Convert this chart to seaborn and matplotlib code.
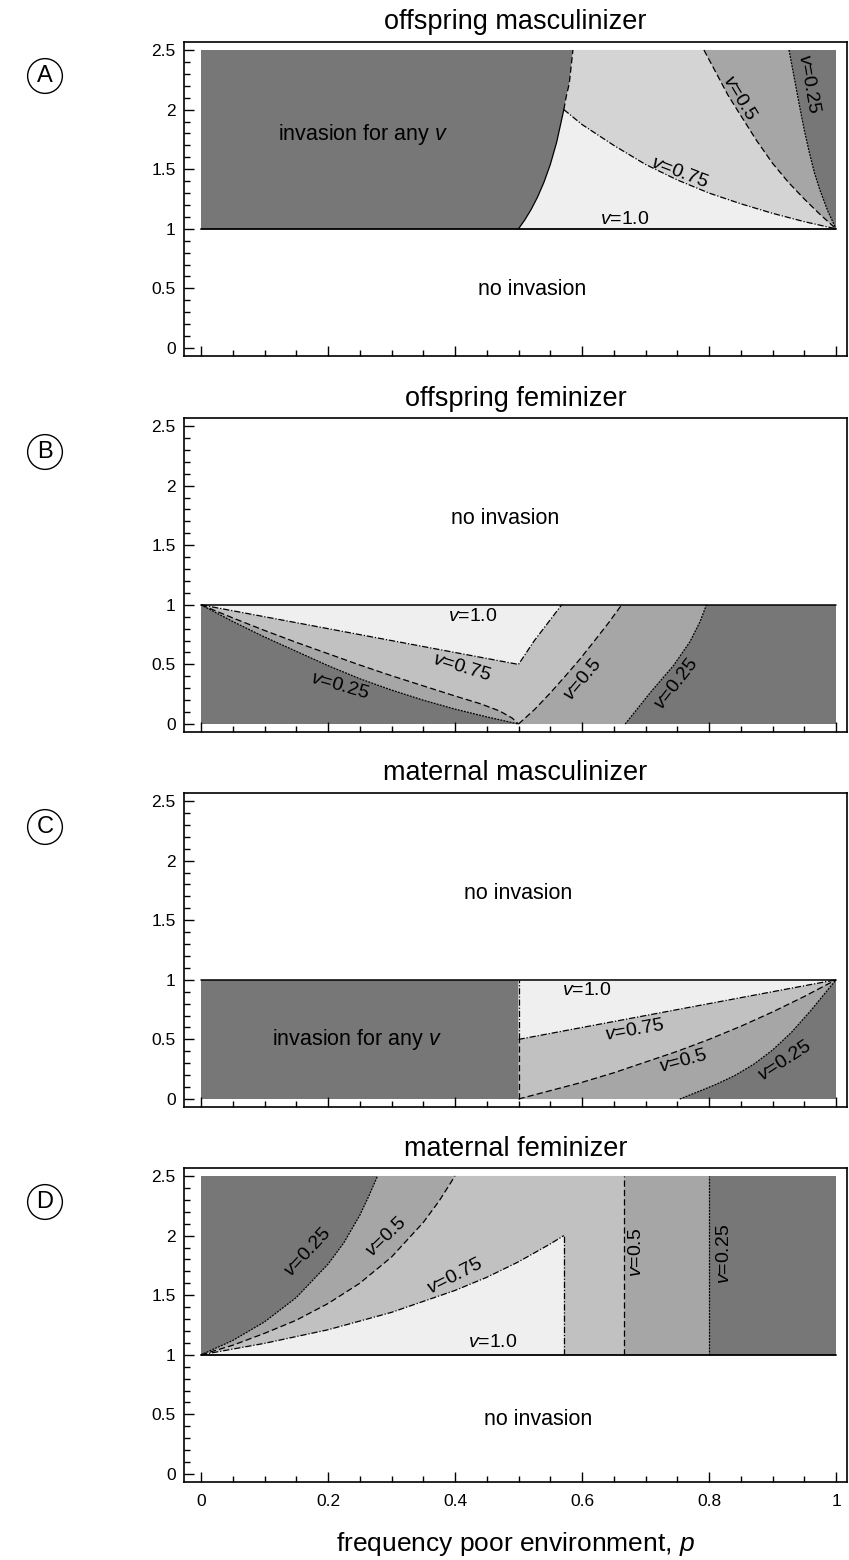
import numpy as np
import matplotlib
matplotlib.use("Agg")
import matplotlib.pyplot as plt
from matplotlib.ticker import MultipleLocator, FuncFormatter
import seaborn as sns

# ---- data ----
# panel A, offspring masculinizer
a_any_p = [0.5, 0.51, 0.52, 0.53, 0.54, 0.55, 0.56, 0.5714]
a_any_y = [1.0, 1.075, 1.163, 1.266, 1.389, 1.538, 1.724, 2.0]
a_anytop_p = [0.5714, 0.575, 0.58, 0.5857]
a_anytop_y = [2.0, 2.105, 2.22, 2.5]
a_v075_p = [0.5714, 0.6, 0.65, 0.7, 0.75, 0.8, 0.85, 0.9, 0.95, 1.0]
a_v075_y = [2.0, 1.875, 1.70, 1.54, 1.41, 1.30, 1.21, 1.13, 1.06, 1.0]
a_v05_p = [0.792, 0.81, 0.83, 0.85, 0.875, 0.90, 0.925, 0.95, 0.975, 1.0]
a_v05_y = [2.5, 2.32, 2.12, 1.95, 1.74, 1.55, 1.39, 1.25, 1.12, 1.0]
a_v025_p = [0.926, 0.932, 0.938, 0.944, 0.95, 0.958, 0.966, 0.975, 0.987, 1.0]
a_v025_y = [2.5, 2.33, 2.16, 1.99, 1.83, 1.64, 1.47, 1.32, 1.15, 1.0]

# panel B, offspring feminizer
b_v075_p = [0.0, 0.1, 0.2, 0.3, 0.4, 0.5, 0.525, 0.548, 0.568]
b_v075_y = [1.0, 0.9, 0.8, 0.7, 0.6, 0.5, 0.7, 0.86, 1.0]
b_v05l_p = [0.0, 0.05, 0.1, 0.15, 0.2, 0.25, 0.3, 0.35, 0.4, 0.44, 0.47, 0.49, 0.5]
b_v05l_y = [1.0, 0.89, 0.785, 0.685, 0.59, 0.495, 0.405, 0.32, 0.235, 0.17, 0.11, 0.05, 0.0]
b_v05r_p = [0.5, 0.525, 0.55, 0.575, 0.597, 0.62, 0.642, 0.6625]
b_v05r_y = [0.0, 0.12, 0.26, 0.41, 0.546, 0.7, 0.85, 1.0]
b_v025l_p = [0.0, 0.05, 0.1, 0.15, 0.2, 0.25, 0.3, 0.35, 0.4, 0.45, 0.5]
b_v025l_y = [1.0, 0.86, 0.73, 0.61, 0.49, 0.38, 0.285, 0.20, 0.125, 0.06, 0.0]
b_v025r_p = [0.668, 0.707, 0.744, 0.770, 0.786, 0.796]
b_v025r_y = [0.0, 0.26, 0.49, 0.69, 0.86, 1.0]

# panel C, maternal masculinizer
c_v075_p = [0.5, 0.6, 0.7, 0.8, 0.9, 1.0]
c_v075_y = [0.5, 0.6, 0.7, 0.8, 0.9, 1.0]
c_v05_p = [0.5, 0.55, 0.6, 0.65, 0.7, 0.75, 0.8, 0.85, 0.9, 0.95, 1.0]
c_v05_y = [0.0, 0.07, 0.14, 0.22, 0.31, 0.40, 0.50, 0.61, 0.73, 0.86, 1.0]
c_v025_p = [0.754, 0.78, 0.81, 0.84, 0.87, 0.9, 0.93, 0.96, 0.98, 1.0]
c_v025_y = [0.0, 0.055, 0.12, 0.195, 0.29, 0.41, 0.56, 0.74, 0.87, 1.0]

# panel D, maternal feminizer
d_v025_p = [0.0, 0.05, 0.1, 0.15, 0.2, 0.225, 0.25, 0.265, 0.278]
d_v025_y = [1.0, 1.12, 1.276, 1.48, 1.76, 1.94, 2.17, 2.34, 2.5]
d_v05_p = [0.0, 0.05, 0.1, 0.15, 0.2, 0.25, 0.3, 0.35, 0.375, 0.4]
d_v05_y = [1.0, 1.08, 1.18, 1.29, 1.43, 1.6, 1.82, 2.11, 2.29, 2.5]
d_v075_p = [0.0, 0.1, 0.2, 0.3, 0.4, 0.45, 0.5, 0.55, 0.5714]
d_v075_y = [1.0, 1.096, 1.21, 1.356, 1.54, 1.65, 1.78, 1.93, 2.0]
d_vert_p = [0.5714, 0.6667, 0.8]

titles = ["offspring masculinizer", "offspring feminizer",
          "maternal masculinizer", "maternal feminizer"]
letters = ["A", "B", "C", "D"]

# ---- style ----
sns.set_style("ticks")
plt.rcParams['font.family'] = ['Liberation Sans', 'DejaVu Sans']
plt.rcParams['mathtext.fontset'] = 'custom'
plt.rcParams['mathtext.rm'] = 'Liberation Sans'
plt.rcParams['mathtext.it'] = 'Liberation Sans:italic'
plt.rcParams['text.color'] = 'k'
plt.rcParams['axes.labelcolor'] = 'k'
plt.rcParams['xtick.color'] = 'k'
plt.rcParams['ytick.color'] = 'k'

dark = "#777777"
mid = "#a6a6a6"
light = "#c1c1c1"
light_a = "#d4d4d4"
pale = "#efefef"

ls075 = (0, (5, 1.5, 1, 1.5))
ls05 = (0, (5, 2.5))
ls025 = (0, (1.5, 1))


def line(ax, p, y, ls, lw=0.9):
    sns.lineplot(x=p, y=y, ax=ax, color="k", lw=lw, linestyle=ls,
                 sort=False, estimator=None)


def poly(ax, p, y, col):
    ax.fill(p, y, color=col, lw=0, zorder=0)


fig = plt.figure(figsize=(8.49, 15.6), dpi=100)
tops = [42, 418, 793, 1168]
axes = []
for i, t in enumerate(tops):
    ax = fig.add_axes([184 / 849, 1 - (t + 314) / 1560, 663 / 849, 314 / 1560])
    axes.append(ax)

lab = dict(fontsize=14, ha="center", va="center")
big = dict(fontsize=15.5, ha="center", va="center")

# panel A
ax = axes[0]
poly(ax, [0, 1, 1, 0], [1, 1, 2.5, 2.5], dark)
poly(ax, a_any_p + a_anytop_p[1:] + a_v025_p, a_any_y + a_anytop_y[1:] + a_v025_y, mid)
poly(ax, a_any_p + a_anytop_p[1:] + a_v05_p, a_any_y + a_anytop_y[1:] + a_v05_y, light_a)
poly(ax, a_any_p + a_v075_p, a_any_y + a_v075_y, pale)
line(ax, [0, 1], [1, 1], "-", lw=1.3)
line(ax, a_any_p, a_any_y, "-")
line(ax, a_anytop_p, a_anytop_y, ls05)
line(ax, a_v075_p, a_v075_y, ls075)
line(ax, a_v05_p, a_v05_y, ls05)
line(ax, a_v025_p, a_v025_y, ls025)
ax.text(0.255, 1.79, "invasion for any $v$", **big)
ax.text(0.521, 0.49, "no invasion", **big)
ax.text(0.668, 1.08, "$v$=1.0", **lab)
ax.text(0.754, 1.47, "$v$=0.75", rotation=-21, **lab)
ax.text(0.848, 2.10, "$v$=0.5", rotation=-59, **lab)
ax.text(0.957, 2.215, "$v$=0.25", rotation=-80, **lab)

# panel B
ax = axes[1]
poly(ax, [0, 1, 1, 0], [0, 0, 1, 1], dark)
poly(ax, b_v025l_p + b_v025r_p, b_v025l_y + b_v025r_y, mid)
poly(ax, b_v05l_p + b_v05r_p[1:], b_v05l_y + b_v05r_y[1:], light)
poly(ax, b_v075_p, b_v075_y, pale)
line(ax, [0, 1], [1, 1], "-", lw=1.1)
line(ax, b_v075_p, b_v075_y, ls075)
line(ax, b_v05l_p, b_v05l_y, ls05)
line(ax, b_v05r_p, b_v05r_y, ls05)
line(ax, b_v025l_p, b_v025l_y, ls025)
line(ax, b_v025r_p, b_v025r_y, ls025)
ax.text(0.479, 1.72, "no invasion", **big)
ax.text(0.428, 0.90, "$v$=1.0", **lab)
ax.text(0.41, 0.47, "$v$=0.75", rotation=-17, **lab)
ax.text(0.218, 0.32, "$v$=0.25", rotation=-16, **lab)
ax.text(0.602, 0.37, "$v$=0.5", rotation=50, **lab)
ax.text(0.749, 0.33, "$v$=0.25", rotation=52, **lab)

# panel C
ax = axes[2]
poly(ax, [0, 1, 1, 0], [0, 0, 1, 1], dark)
poly(ax, [0.5] + c_v025_p + [0.5], [0] + c_v025_y + [1], mid)
poly(ax, c_v05_p + [0.5], c_v05_y + [1], light)
poly(ax, c_v075_p + [0.5], c_v075_y + [1], pale)
line(ax, [0, 1], [1, 1], "-", lw=1.1)
line(ax, [0.5, 0.5], [0.5, 1], ls075)
line(ax, [0.5, 0.5], [0, 0.5], ls05)
line(ax, c_v075_p, c_v075_y, ls075)
line(ax, c_v05_p, c_v05_y, ls05)
line(ax, c_v025_p, c_v025_y, ls025)
ax.text(0.50, 1.72, "no invasion", **big)
ax.text(0.246, 0.5, "invasion for any $v$", **big)
ax.text(0.608, 0.91, "$v$=1.0", **lab)
ax.text(0.683, 0.575, "$v$=0.75", rotation=10, **lab)
ax.text(0.76, 0.32, "$v$=0.5", rotation=15, **lab)
ax.text(0.92, 0.32, "$v$=0.25", rotation=33, **lab)

# panel D
ax = axes[3]
poly(ax, [0, 1, 1, 0], [1, 1, 2.5, 2.5], dark)
poly(ax, d_v025_p + [d_vert_p[2], d_vert_p[2]], d_v025_y + [2.5, 1], mid)
poly(ax, d_v05_p + [d_vert_p[1], d_vert_p[1]], d_v05_y + [2.5, 1], light)
poly(ax, d_v075_p + [d_vert_p[0]], d_v075_y + [1], pale)
line(ax, [0, 1], [1, 1], "-", lw=1.3)
line(ax, d_v025_p, d_v025_y, ls025)
line(ax, d_v05_p, d_v05_y, ls05)
line(ax, d_v075_p, d_v075_y, ls075)
line(ax, [d_vert_p[0]] * 2, [1, 2.0], ls075)
line(ax, [d_vert_p[1]] * 2, [1, 2.5], ls05)
line(ax, [d_vert_p[2]] * 2, [1, 2.5], ls025)
ax.text(0.531, 0.46, "no invasion", **big)
ax.text(0.46, 1.10, "$v$=1.0", **lab)
ax.text(0.40, 1.66, "$v$=0.75", rotation=27, **lab)
ax.text(0.292, 1.985, "$v$=0.5", rotation=44, **lab)
ax.text(0.168, 1.86, "$v$=0.25", rotation=47, **lab)
ax.text(0.686, 1.86, "$v$=0.5", rotation=90, **lab)
ax.text(0.825, 1.85, "$v$=0.25", rotation=90, **lab)

fmt = FuncFormatter(lambda v, _: f"{v:g}")
for i, ax in enumerate(axes):
    ax.set_xlim(-17 / 635, 1 + 11 / 635)
    ax.set_ylim(-0.067, 2.567)
    ax.xaxis.set_major_locator(MultipleLocator(0.2))
    ax.xaxis.set_minor_locator(MultipleLocator(0.05))
    ax.yaxis.set_major_locator(MultipleLocator(0.5))
    ax.yaxis.set_minor_locator(MultipleLocator(0.1))
    ax.yaxis.set_major_formatter(fmt)
    ax.xaxis.set_major_formatter(fmt)
    ax.tick_params(which="both", direction="in", top=False, right=False,
                   width=1, colors="k", labelsize=12.5)
    ax.tick_params(which="major", length=7, pad=6)
    ax.tick_params(which="minor", length=4)
    ax.tick_params(axis="x", labelbottom=(i == 3), pad=9)
    for s in ax.spines.values():
        s.set_linewidth(1.2)
        s.set_color("k")
    ax.set_xlabel("")
    ax.set_ylabel("")
    ax.set_title(titles[i], fontsize=19.5, pad=9)
    fig.text(45 / 849, 1 - (tops[i] + 34) / 1560, letters[i], fontsize=17,
             ha="center", va="center",
             bbox=dict(boxstyle="circle,pad=0.27", fc="white", ec="k", lw=1))

axes[3].set_xlabel("frequency poor environment, $p$", fontsize=19, labelpad=15)

fig.savefig("out.png", dpi=100)
